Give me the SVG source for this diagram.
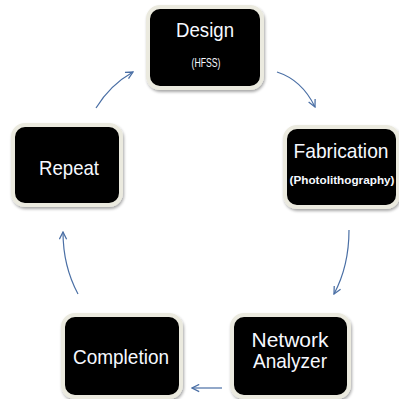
<svg xmlns="http://www.w3.org/2000/svg" width="399" height="399" viewBox="0 0 399 399">
<defs>
<filter id="sh" x="-10%" y="-10%" width="125%" height="125%">
<feGaussianBlur in="SourceAlpha" stdDeviation="1.5"/>
<feOffset dx="1" dy="2" result="b"/>
<feComponentTransfer><feFuncA type="linear" slope="0.35"/></feComponentTransfer>
<feMerge><feMergeNode/><feMergeNode in="SourceGraphic"/></feMerge>
</filter>
<marker id="ah" viewBox="0 0 10 10" refX="9" refY="5" markerWidth="9" markerHeight="9" markerUnits="userSpaceOnUse" orient="auto">
<path d="M1,1 L9,5 L1,9" fill="none" stroke="#4a6fa5" stroke-width="1.4"/>
</marker>
</defs>
<style>
.box{fill:#000;stroke:#ebeadf;stroke-width:4;filter:url(#sh)}
.t{fill:#f6f9ff;font-family:"Liberation Sans",Arial,sans-serif;text-anchor:middle}
.big{font-size:21px}
.sm{font-size:12px}
.b{font-weight:bold;font-size:11.5px}
.c{fill:none;stroke:#4a6fa5;stroke-width:1.2;marker-end:url(#ah)}
</style>
<rect width="399" height="399" fill="#fff"/>
<g id="connectors">
<path class="c" d="M277,72 Q302,80 315,107"/>
<path class="c" d="M349,230 Q349,266 334,294"/>
<path class="c" d="M222,388 L192,388"/>
<path class="c" d="M78,294 Q63,266 63,232"/>
<path class="c" d="M96,108 Q110,85 133,72"/>
</g>
<g id="design">
<rect class="box" x="148" y="7" width="114" height="81" rx="12"/>
<text class="t big" x="205" y="37" textLength="58" lengthAdjust="spacingAndGlyphs">Design</text>
<text class="t sm" x="206" y="67" textLength="29" lengthAdjust="spacingAndGlyphs">(HFSS)</text>
</g>
<g id="fabrication">
<rect class="box" x="285" y="127" width="113" height="80" rx="12"/>
<text class="t big" x="341" y="158" textLength="95" lengthAdjust="spacingAndGlyphs">Fabrication</text>
<text class="t b" x="342" y="184" textLength="105" lengthAdjust="spacingAndGlyphs">(Photolithography)</text>
</g>
<g id="network">
<rect class="box" x="232" y="315" width="117" height="82" rx="12"/>
<text class="t big" x="290" y="347" textLength="77" lengthAdjust="spacingAndGlyphs">Network</text>
<text class="t big" x="290" y="368" textLength="74" lengthAdjust="spacingAndGlyphs">Analyzer</text>
</g>
<g id="completion">
<rect class="box" x="63" y="315" width="118" height="82" rx="12"/>
<text class="t big" x="121" y="364" textLength="96" lengthAdjust="spacingAndGlyphs">Completion</text>
</g>
<g id="repeat">
<rect class="box" x="13" y="125" width="108" height="80" rx="12"/>
<text class="t big" x="69" y="175" textLength="60" lengthAdjust="spacingAndGlyphs">Repeat</text>
</g>
</svg>
